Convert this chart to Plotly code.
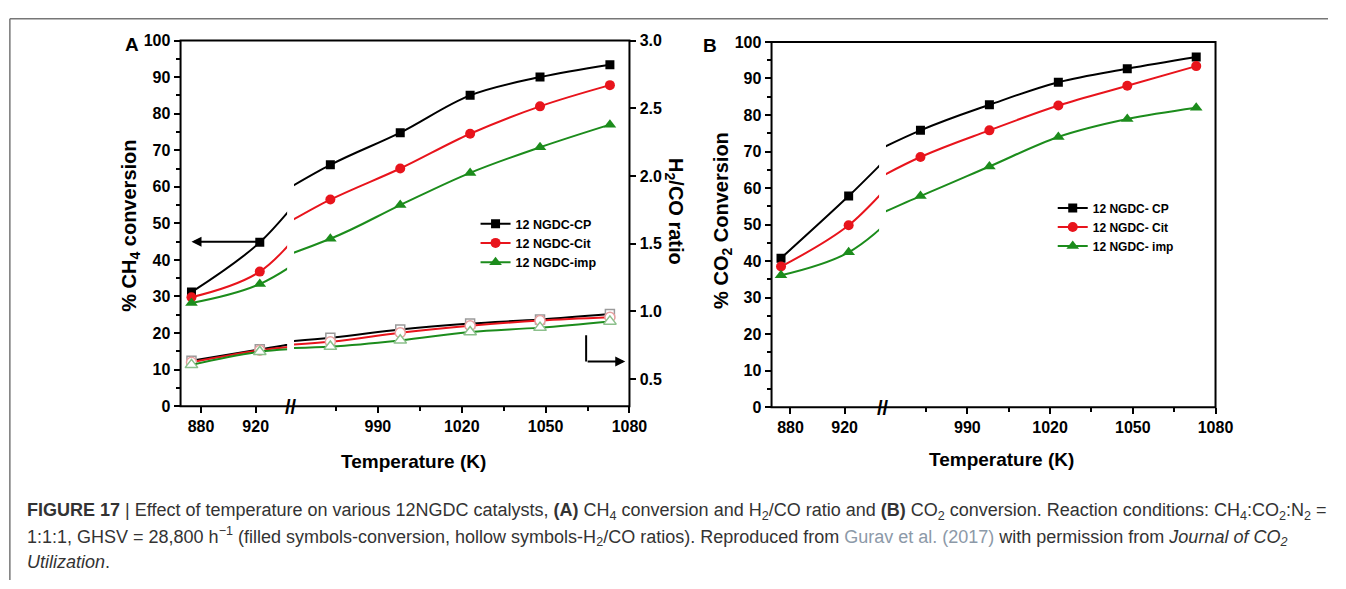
import plotly.graph_objects as go

W, H = 1346, 589

# ---------------- data ----------------
temps = [873, 923, 973, 998, 1023, 1048, 1073]

names_a = ["12 NGDC-CP", "12 NGDC-Cit", "12 NGDC-imp"]
names_b = ["12 NGDC- CP", "12 NGDC- Cit", "12 NGDC- imp"]

ch4_cp = [31.2, 44.8, 66.0, 74.8, 85.0, 90.0, 93.4]
ch4_cit = [29.8, 36.8, 56.5, 65.0, 74.5, 82.0, 87.8]
ch4_imp = [28.2, 33.4, 45.8, 55.0, 63.8, 70.8, 77.0]

ratio_cp = [0.635, 0.72, 0.805, 0.867, 0.91, 0.94, 0.98]
ratio_cit = [0.624, 0.713, 0.775, 0.843, 0.894, 0.932, 0.956]
ratio_imp = [0.605, 0.702, 0.74, 0.786, 0.848, 0.88, 0.926]

co2_cp = [40.8, 57.8, 75.8, 82.8, 89.0, 92.7, 95.9]
co2_cit = [38.5, 49.8, 68.5, 75.8, 82.6, 88.0, 93.4]
co2_imp = [36.1, 42.4, 57.8, 65.9, 74.0, 78.9, 82.0]

ticks_left = [880, 920]
ticks_right = [990, 1020, 1050, 1080]
minor_right = [975, 1005, 1035, 1065]
ratio_ticks = [0.5, 1.0, 1.5, 2.0, 2.5, 3.0]

# ---------------- style ----------------
colors = ["#000000", "#e8141c", "#1c8c1c"]
hollow_line = ["#9a9a9a", "#e6a0a0", "#8cc08c"]
symbols = ["square", "circle", "triangle-up"]
msizes = [9, 10, 11]
FONT = "Liberation Sans, Arial, sans-serif"


def fx(px):
    return px / W


def fy(py):
    return 1 - py / H


ydomA = [fy(410), fy(33.5)]
ydomB = [fy(411), fy(35)]
A_L, A_R = [fx(183), fx(291)], [fx(298), fx(638)]
B_L, B_R = [fx(782), fx(891)], [fx(898), fx(1232)]

fig = go.Figure()

# Panel A: CH4 conversion (filled symbols)
for i, ys in enumerate([ch4_cp, ch4_cit, ch4_imp]):
    for xa, ya, show in [("x", "y", True), ("x2", "y2", False)]:
        fig.add_trace(go.Scatter(
            x=temps, y=ys, xaxis=xa, yaxis=ya, mode="lines+markers",
            name=names_a[i], legend="legend", showlegend=show,
            line=dict(color=colors[i], width=2, shape="spline", smoothing=1.0),
            marker=dict(symbol=symbols[i], size=msizes[i], color=colors[i]),
        ))

# Panel A: H2/CO ratio (hollow symbols, right axis)
for i, ys in enumerate([ratio_cp, ratio_cit, ratio_imp]):
    for xa, ya in [("x", "y4"), ("x2", "y3")]:
        fig.add_trace(go.Scatter(
            x=temps, y=ys, xaxis=xa, yaxis=ya, mode="lines+markers",
            showlegend=False,
            line=dict(color=colors[i], width=2, shape="spline", smoothing=1.0),
            marker=dict(symbol=symbols[i], size=msizes[i], color="white",
                        line=dict(color=hollow_line[i], width=1.5)),
        ))

# Panel B: CO2 conversion
for i, ys in enumerate([co2_cp, co2_cit, co2_imp]):
    for xa, ya, show in [("x3", "y5", True), ("x4", "y6", False)]:
        fig.add_trace(go.Scatter(
            x=temps, y=ys, xaxis=xa, yaxis=ya, mode="lines+markers",
            name=names_b[i], legend="legend2", showlegend=show,
            line=dict(color=colors[i], width=2, shape="spline", smoothing=1.0),
            marker=dict(symbol=symbols[i], size=msizes[i], color=colors[i]),
        ))

tickfont = dict(family=FONT, size=16, color="black", weight="bold")
xcommon = dict(showgrid=False, zeroline=False, showline=False, ticks="outside",
               ticklen=6, tickwidth=1.5, tickcolor="black", tickfont=tickfont,
               tickmode="array")
ycommon = dict(showgrid=False, zeroline=False, showline=False, ticks="outside",
               ticklen=6, tickwidth=1.5, tickcolor="black", tickfont=tickfont)
minor_x = dict(tickvals=minor_right, ticks="outside", ticklen=4, tickwidth=1.5, tickcolor="black")
minor_y = dict(dtick=5, ticks="outside", ticklen=4, tickwidth=1.5, tickcolor="black")

fig.update_layout(
    width=W, height=H, margin=dict(l=0, r=0, t=0, b=0),
    paper_bgcolor="white", plot_bgcolor="rgba(0,0,0,0)",
    xaxis=dict(domain=A_L, range=[865, 943], tickvals=ticks_left, anchor="y", **xcommon),
    xaxis2=dict(domain=A_R, range=[960, 1080], tickvals=ticks_right, anchor="y2",
                minor=minor_x, **xcommon),
    xaxis3=dict(domain=B_L, range=[866, 945.5], tickvals=ticks_left, anchor="y5", **xcommon),
    xaxis4=dict(domain=B_R, range=[960.5, 1080], tickvals=ticks_right, anchor="y6",
                minor=minor_x, **xcommon),
    yaxis=dict(domain=ydomA, range=[0, 100], anchor="x", dtick=10, minor=minor_y, **ycommon),
    yaxis2=dict(domain=ydomA, matches="y", anchor="x2", visible=False),
    yaxis3=dict(domain=ydomA, range=[0.3, 3.0], anchor="x2", overlaying="y2", side="right",
                tickvals=ratio_ticks, tickformat=".1f", **ycommon),
    yaxis4=dict(domain=ydomA, matches="y3", anchor="x", overlaying="y", visible=False),
    yaxis5=dict(domain=ydomB, range=[0, 100], anchor="x3", dtick=10, minor=minor_y, **ycommon),
    yaxis6=dict(domain=ydomB, matches="y5", anchor="x4", visible=False),
    legend=dict(x=fx(482), y=fy(207), xanchor="left", yanchor="top",
                bgcolor="rgba(0,0,0,0)", tracegroupgap=0,
                font=dict(family=FONT, size=12.5, color="black", weight="bold")),
    legend2=dict(x=fx(1067), y=fy(191), xanchor="left", yanchor="top",
                 bgcolor="rgba(0,0,0,0)", tracegroupgap=0,
                 font=dict(family=FONT, size=12, color="black", weight="bold")),
)

shapes = []
# panel frames
for (x0, x1), (yb, yt) in [((183, 638), (410, 33.5)), ((782, 1232), (411, 35))]:
    shapes.append(dict(type="rect", xref="paper", yref="paper", x0=fx(x0), x1=fx(x1),
                       y0=fy(yb), y1=fy(yt), line=dict(color="black", width=2)))
# outer figure frame (open on right and bottom)
shapes.append(dict(type="line", xref="paper", yref="paper", x0=fx(10), x1=fx(10),
                   y0=0, y1=fy(11), line=dict(color="#777777", width=1.5)))
shapes.append(dict(type="line", xref="paper", yref="paper", x0=fx(10), x1=1,
                   y0=fy(11), y1=fy(11), line=dict(color="#777777", width=1.5)))
# L-shaped pointer stem toward the right axis (panel A)
shapes.append(dict(type="line", xref="x2", yref="y2", x0=1064.5, x1=1064.5, y0=19.4, y1=12.2,
                   line=dict(color="black", width=2)))
fig.update_layout(shapes=shapes)

bold = dict(family=FONT, color="black", weight="bold")
ann = []


def label(text, px, py, size, angle=0, xa="center", ya="middle", font=None):
    ann.append(dict(text=text, x=fx(px), y=fy(py), xref="paper", yref="paper",
                    xanchor=xa, yanchor=ya, textangle=angle, showarrow=False,
                    font=font if font else dict(size=size, **bold)))


# panel letters
label("A", 134, 38, 19)
label("B", 720, 39, 19)
# axis titles
label("% CH<sub>4</sub> conversion", 132, 224, 20, angle=-90)
label("H<sub>2</sub>/CO ratio", 683, 210, 20, angle=90)
label("% CO<sub>2</sub> Conversion", 732, 219, 20, angle=-90)
label("Temperature (K)", 419, 467, 19)
label("Temperature (K)", 1015, 465, 19)
# axis break marks
for bx, by in [(294.5, 411), (894.5, 412)]:
    label("//", bx, by, 20)

# arrows in panel A
ann.append(dict(x=873, y=45, ax=923, ay=45, xref="x", yref="y", axref="x", ayref="y",
                text="", showarrow=True, arrowhead=2, arrowsize=1, arrowwidth=2,
                arrowcolor="black"))
ann.append(dict(x=1078.5, y=12.2, ax=1064.5, ay=12.2, xref="x2", yref="y2", axref="x2",
                ayref="y2", text="", showarrow=True, arrowhead=2, arrowsize=1, arrowwidth=2,
                arrowcolor="black"))

# caption
cap_font = dict(family=FONT, size=18, color="#333333")
cap1 = ("<b>FIGURE 17</b> | Effect of temperature on various 12NGDC catalysts, <b>(A)</b> "
        "CH<sub>4</sub> conversion and H<sub>2</sub>/CO ratio and <b>(B)</b> CO<sub>2</sub> "
        "conversion. Reaction conditions: CH<sub>4</sub>:CO<sub>2</sub>:N<sub>2</sub> =")
cap2 = ("1:1:1, GHSV = 28,800 h<sup>−1</sup> (filled symbols-conversion, hollow symbols-"
        "H<sub>2</sub>/CO ratios). Reproduced from <span style='color:#8c99a8'>Gurav et al. "
        "(2017)</span> with permission from <i>Journal of CO<sub>2</sub></i>")
cap3 = "<i>Utilization</i>."
for t, yy in [(cap1, 518), (cap2, 544), (cap3, 570)]:
    label(t, 25, yy, 18, xa="left", font=cap_font)

fig.update_layout(annotations=ann)

fig.write_html("out.html")
